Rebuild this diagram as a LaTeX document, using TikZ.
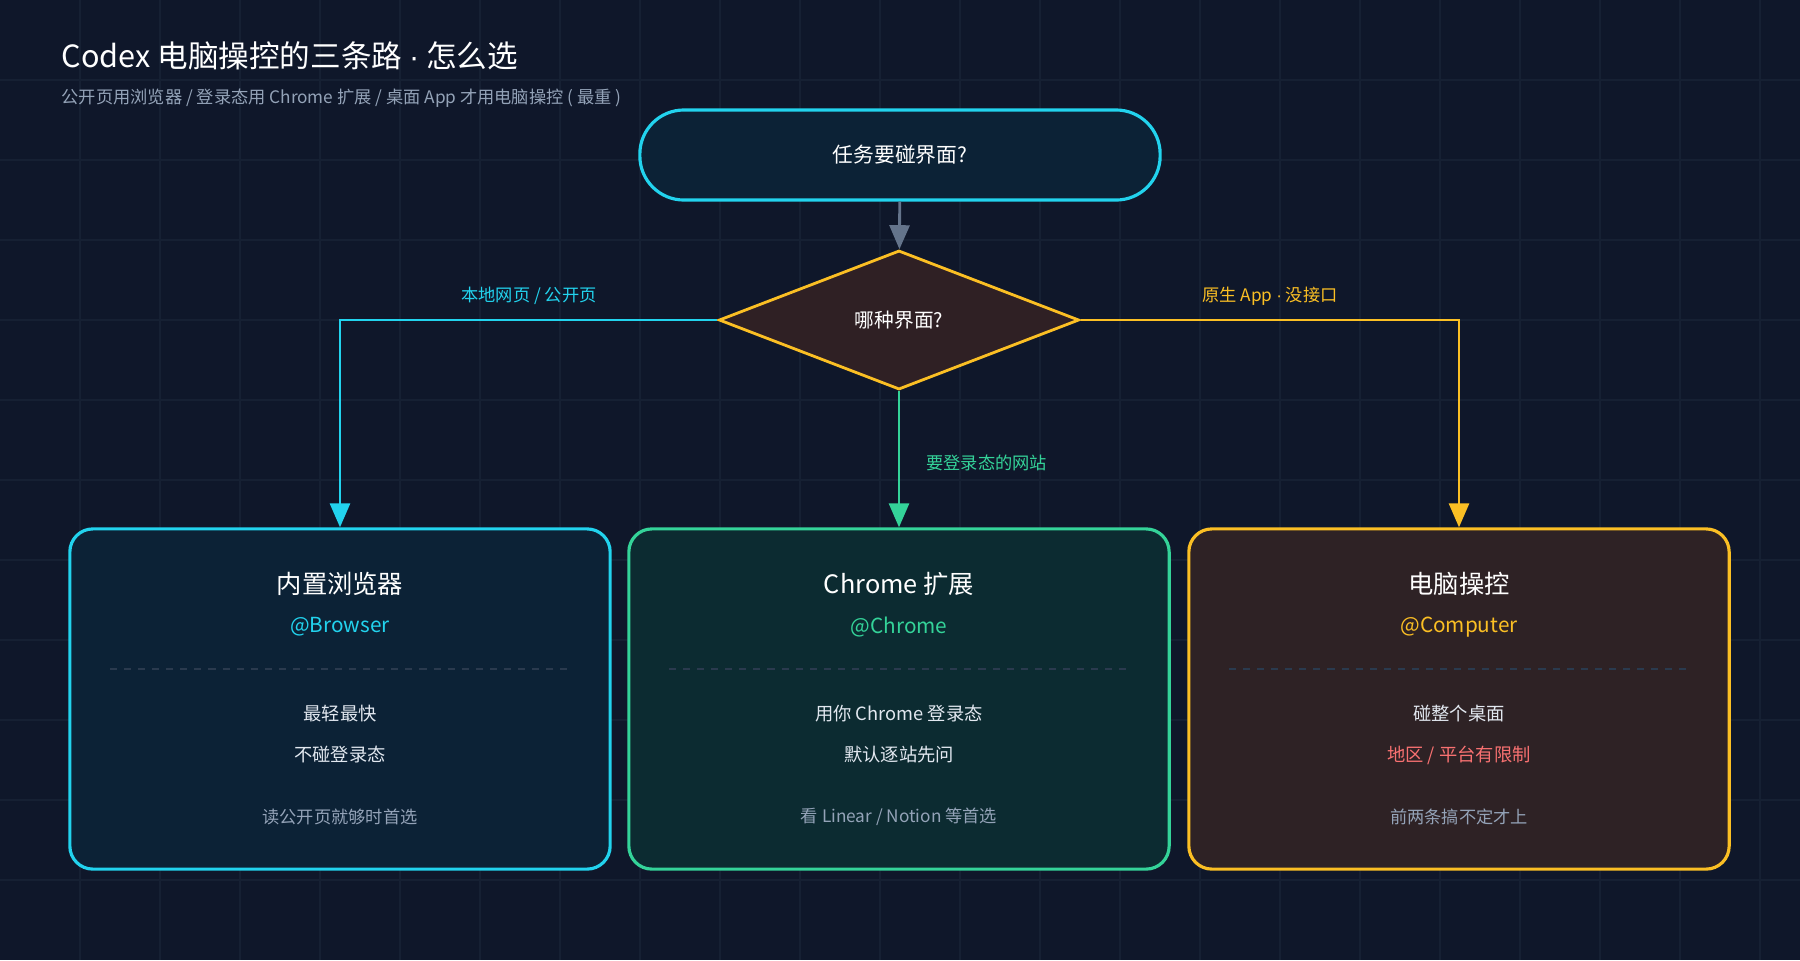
\documentclass[tikz,border=0pt]{standalone}
\usepackage{fontspec}
\setmainfont{Noto Sans CJK SC}
\newfontfamily\latinfont{Liberation Sans}
\newcommand{\mdot}{{\latinfont ·}}
\usetikzlibrary{arrows.meta,shapes.geometric}
\definecolor{bg}{HTML}{0F172A}
\definecolor{gridc}{HTML}{162033}
\definecolor{cyanc}{HTML}{22D3EE}
\definecolor{greenc}{HTML}{34D399}
\definecolor{amberc}{HTML}{FBBF24}
\definecolor{redc}{HTML}{F87171}
\definecolor{slatec}{HTML}{64748B}
\definecolor{bodyc}{HTML}{E2E8F0}
\definecolor{notec}{HTML}{94A3B8}
\definecolor{cyanf}{HTML}{0C2236}
\definecolor{greenf}{HTML}{0C2B31}
\definecolor{amberf}{HTML}{2E2225}
\definecolor{diaf}{HTML}{2F2024}
\definecolor{sepc}{HTML}{2A3A4E}
\tikzset{
  card/.style={draw=#1,line width=0.9pt,rounded corners=0.23cm,minimum width=5.4cm,minimum height=3.4cm,inner sep=0},
  flow/.style={line width=0.8pt,-{Triangle[length=2.4mm,width=2mm]}},
  sep/.style={sepc,dash pattern=on 2pt off 2pt,line width=0.3pt},
  cardtitle/.style={text=white,font=\fontsize{7.2}{8}\selectfont},
  handle/.style={text=#1,font=\fontsize{5.9}{7}\selectfont},
  bodytext/.style={text=bodyc,font=\fontsize{5.2}{6}\selectfont},
  notetext/.style={text=notec,font=\fontsize{4.9}{6}\selectfont},
  branch/.style={text=#1,font=\fontsize{4.9}{6}\selectfont}
}
\begin{document}
\begin{tikzpicture}[x=0.01cm,y=-0.01cm]
\useasboundingbox (0,0) rectangle (1800,960);
\fill[bg] (0,0) rectangle (1800,960);
% grid
\foreach \gx in {80,160,...,1760} \draw[gridc,line width=0.3pt] (\gx,0) -- (\gx,960);
\foreach \gy in {80,160,...,880} \draw[gridc,line width=0.3pt] (0,\gy) -- (1800,\gy);
% title
\node[anchor=west,text=white,font=\fontsize{8.7}{10}\selectfont,inner sep=0] (title) at (61,56) {Codex 电脑操控的三条路 \mdot{} 怎么选};
\node[anchor=west,text=notec,font=\fontsize{4.9}{6}\selectfont,inner sep=0] (subtitle) at (61,98) {公开页用浏览器 / 登录态用 Chrome 扩展 / 桌面 App 才用电脑操控 ( 最重 )};
% start and decision
\node[draw=cyanc,fill=cyanf,line width=0.9pt,rounded corners=0.44cm,minimum width=5.2cm,minimum height=0.9cm,text=white,font=\fontsize{5.9}{7}\selectfont] (task) at (900,155) {任务要碰界面?};
\node[diamond,draw=amberc,fill=diaf,line width=0.8pt,minimum width=3.6cm,minimum height=1.39cm,inner sep=0,text=white,font=\fontsize{5.6}{7}\selectfont] (kind) at (899,320) {哪种界面?};
% cards
\node[card=cyanc,fill=cyanf] (browser) at (340,699) {};
\node[card=greenc,fill=greenf] (chrome) at (899,699) {};
\node[card=amberc,fill=amberf] (computer) at (1459,699) {};
\node[cardtitle] (browserT) at (340,584) {内置浏览器};
\node[handle=cyanc] (browserH) at (340,627) {@Browser};
\draw[sep] (110,669) -- (570,669);
\node[bodytext] (browserA) at (340,714) {最轻最快};
\node[bodytext] (browserB) at (340,755) {不碰登录态};
\node[notetext] (browserN) at (340,817) {读公开页就够时首选};
\node[cardtitle] (chromeT) at (899,584) {Chrome 扩展};
\node[handle=greenc] (chromeH) at (899,627) {@Chrome};
\draw[sep] (669,669) -- (1129,669);
\node[bodytext] (chromeA) at (899,714) {用你 Chrome 登录态};
\node[bodytext] (chromeB) at (899,755) {默认逐站先问};
\node[notetext] (chromeN) at (899,817) {看 Linear / Notion 等首选};
\node[cardtitle] (computerT) at (1459,584) {电脑操控};
\node[handle=amberc] (computerH) at (1459,627) {@Computer};
\draw[sep] (1229,669) -- (1689,669);
\node[bodytext] (computerA) at (1459,714) {碰整个桌面};
\node[bodytext,text=redc] (computerB) at (1459,755) {地区 / 平台有限制};
\node[notetext] (computerN) at (1459,817) {前两条搞不定才上};
% connectors
\draw[flow,slatec] (task) -- (kind);
\draw[flow,cyanc] (kind.west) -| (browser.north);
\draw[flow,greenc] (kind.south) -- (chrome.north);
\draw[flow,amberc] (kind.east) -| (computer.north);
\node[branch=cyanc] (leftL) at (529,296) {本地网页 / 公开页};
\node[branch=greenc,anchor=west] (midL) at (914,463) {要登录态的网站};
\node[branch=amberc] (rightL) at (1270,296) {原生 App \mdot{} 没接口};
\end{tikzpicture}
\end{document}
